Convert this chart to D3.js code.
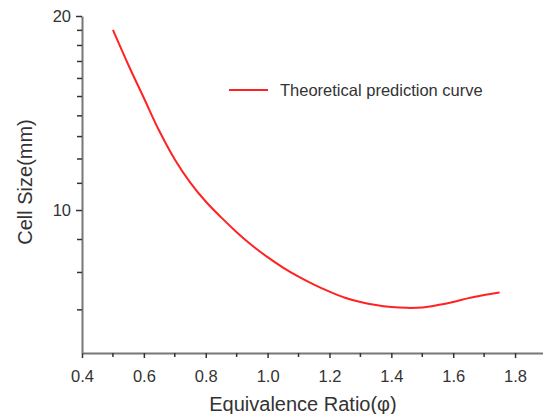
<!DOCTYPE html>
<html>
<head>
<meta charset="utf-8">
<script src="https://cdn.jsdelivr.net/npm/d3@7"></script>
<style>
  body { margin: 0; background: #fff; }
  svg { display: block; font-family: "Liberation Sans", Arial, sans-serif; }
  .axis path { stroke: #777; stroke-width: 2; }
  .axis line { stroke: #333; stroke-width: 1.5; }
  .axis text { fill: #333; font-size: 16.5px; }
</style>
</head>
<body>
<div id="chart"></div>
<script>
"use strict";

// equivalence ratio and cell size
var phi = [0.5, 0.55, 0.6, 0.65, 0.7, 0.75, 0.8, 0.85, 0.9, 0.95, 1.0, 1.05, 1.1,
           1.15, 1.2, 1.25, 1.3, 1.35, 1.4, 1.45, 1.5, 1.55, 1.6, 1.65, 1.7, 1.75];
var cellSize = [19.03, 16.79, 14.92, 13.26, 11.98, 11.03, 10.31, 9.74, 9.24, 8.81, 8.45, 8.14, 7.88,
                7.66, 7.47, 7.31, 7.20, 7.12, 7.07, 7.05, 7.06, 7.12, 7.20, 7.30, 7.38, 7.45];
var xMajor = [0.4, 0.6, 0.8, 1.0, 1.2, 1.4, 1.6, 1.8];
var xMinor = [0.5, 0.7, 0.9, 1.1, 1.3, 1.5, 1.7];
var yMajor = [10, 20];
var yMinor = [7, 8, 9, 11, 12, 13, 14, 15, 16, 17, 18, 19];
var legendLabel = "Theoretical prediction curve";

var width = 543, height = 414;
var svg = d3.select('#chart').append('svg')
  .attr('width', width)
  .attr('height', height);

var x = d3.scaleLinear().domain([0.4, 1.9]).range([82, 546]);
var y = d3.scaleLog().domain([6.0, 20]).range([353, 16]);

// x axis
svg.append('g')
  .attr('class', 'axis')
  .attr('transform', 'translate(0,353)')
  .call(d3.axisBottom(x).tickValues(xMajor).tickSize(5).tickSizeOuter(0)
    .tickPadding(12).tickFormat(d3.format('.1f')));

// y axis
svg.append('g')
  .attr('class', 'axis')
  .attr('transform', 'translate(82,0)')
  .call(d3.axisLeft(y).tickValues(yMajor).tickSize(6).tickSizeOuter(0)
    .tickPadding(5).tickFormat(d3.format('d')));

// minor ticks
svg.selectAll('.xminor')
  .data(xMinor).enter()
  .append('line')
  .attr('class', 'xminor')
  .attr('x1', function(d) { return x(d); })
  .attr('x2', function(d) { return x(d); })
  .attr('y1', 353)
  .attr('y2', 357)
  .attr('stroke', '#333')
  .attr('stroke-width', 1.5);

svg.selectAll('.yminor')
  .data(yMinor).enter()
  .append('line')
  .attr('class', 'yminor')
  .attr('x1', 77)
  .attr('x2', 82)
  .attr('y1', function(d) { return y(d); })
  .attr('y2', function(d) { return y(d); })
  .attr('stroke', '#333')
  .attr('stroke-width', 1.5);

// curve
var line = d3.line()
  .x(function(d, i) { return x(phi[i]); })
  .y(function(d) { return y(d); })
  .curve(d3.curveCatmullRom.alpha(0.5));

svg.append('path')
  .datum(cellSize)
  .attr('d', line)
  .attr('fill', 'none')
  .attr('stroke', '#ff2222')
  .attr('stroke-width', 2);

// legend
svg.append('line')
  .attr('x1', 229).attr('x2', 268)
  .attr('y1', 90).attr('y2', 90)
  .attr('stroke', '#ff2222')
  .attr('stroke-width', 2);
svg.append('text')
  .attr('x', 280).attr('y', 96)
  .attr('fill', '#333')
  .style('font-size', '16.5px')
  .text(legendLabel);

// axis titles
svg.append('text')
  .attr('x', 303).attr('y', 411)
  .attr('text-anchor', 'middle')
  .attr('fill', '#333')
  .style('font-size', '20px')
  .text('Equivalence Ratio(φ)');

svg.append('text')
  .attr('transform', 'translate(32,182) rotate(-90)')
  .attr('text-anchor', 'middle')
  .attr('fill', '#333')
  .style('font-size', '20px')
  .text('Cell Size(mm)');
</script>
</body>
</html>
